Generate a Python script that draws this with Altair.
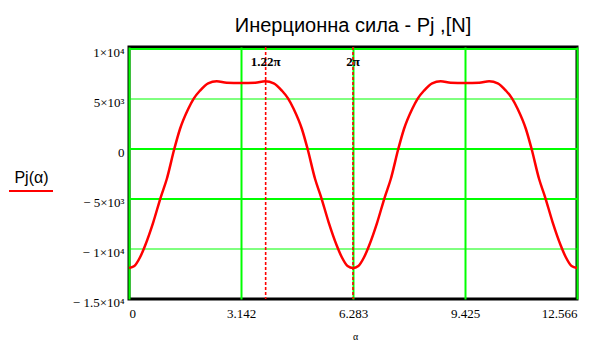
import altair as alt
import pandas as pd

# Curve values (alpha in rad, Pj in N)
alpha = [0.0, 0.15, 0.31, 0.45, 0.68, 0.89, 1.06, 1.27, 1.43, 1.66, 1.82, 1.99, 2.22, 2.46, 2.74,
         3.14, 3.54, 3.82, 4.06, 4.29, 4.46, 4.62, 4.85, 5.01, 5.22, 5.39, 5.60, 5.83, 5.97, 6.13,
         6.283, 6.433, 6.593, 6.733, 6.963, 7.173, 7.343, 7.553, 7.713, 7.943, 8.103, 8.273, 8.503,
         8.743, 9.023, 9.423, 9.823, 10.103, 10.343, 10.573, 10.743, 10.903, 11.133, 11.293, 11.503,
         11.673, 11.883, 12.113, 12.253, 12.413, 12.566]
pj = [-11900, -11700, -10830, -9670, -7330, -4830, -3000, 0, 2000, 4000, 5070, 5830, 6570, 6770, 6630,
      6600, 6630, 6770, 6570, 5830, 5070, 4000, 2000, 0, -3000, -4830, -7330, -9670, -10830, -11700,
      -11900, -11700, -10830, -9670, -7330, -4830, -3000, 0, 2000, 4000, 5070, 5830, 6570,
      6770, 6630, 6600, 6630, 6770, 6570, 5830, 5070, 4000, 2000, 0, -3000,
      -4830, -7330, -9670, -10830, -11700, -11900]

x_ticks = [0, 3.142, 6.283, 9.425, 12.566]
y_ticks = [10000, 5000, 0, -5000, -10000, -15000]
y_tick_labels = ["1×10⁴", "5×10³", "0", "− 5×10³", "− 1×10⁴", "− 1.5×10⁴"]
y_grid_values = [10000, 5000, 0, -5000, -10000]
y_grid_widths = [2, 1, 2, 2, 1]
marker_alpha = [3.833, 6.283]
marker_labels = ["1.22π", "2π"]

title_text = "Инерционна сила - Pj ,[N]"
y_title = "Pj(α)"
x_title = "α"

curve_df = pd.DataFrame({"alpha": alpha, "pj": pj})
marker_df = pd.DataFrame({"alpha": marker_alpha, "label": marker_labels})
grid_df = pd.DataFrame({"pj": y_grid_values, "w": y_grid_widths})
one_df = pd.DataFrame({"k": [0]})

y_expr = " : ".join(
    f"datum.value == {v} ? '{l}'" for v, l in zip(y_ticks, y_tick_labels)
) + " : ''"
x_expr = "datum.value == 0 ? '0' : format(datum.value, '.3f')"

GREEN = "#00ff00"
RED = "#ff0000"

x_scale = alt.Scale(domain=[0, 12.566], nice=False, zero=False)
y_scale = alt.Scale(domain=[-15000, 10200], nice=False, zero=False)

x_axis = alt.Axis(
    values=x_ticks, labelExpr=x_expr, title=x_title,
    titleX=226, titleY=37, titleFont="Liberation Serif", titleFontSize=10,
    titleFontWeight="normal", titleBaseline="middle",
    labelBaseline="top", labelPadding=8,
    grid=True, gridWidth=2, gridColor=GREEN,
)
y_axis = alt.Axis(
    values=y_ticks, labelExpr=y_expr, title=y_title, grid=False,
    titleAngle=0, titleX=-98, titleY=130, titleAlign="center", titleBaseline="middle",
    titleFont="Liberation Sans", titleFontSize=16, titleFontWeight="normal",
    labelPadding=5, labelBaseline="middle", labelOffset=3,
)

grid = alt.Chart(grid_df).mark_rule(color=GREEN).encode(
    y=alt.Y("pj:Q", scale=y_scale, axis=y_axis),
    strokeWidth=alt.StrokeWidth("w:Q", scale=None),
)

line = alt.Chart(curve_df).mark_line(
    color=RED, strokeWidth=2.5, interpolate="monotone"
).encode(
    x=alt.X("alpha:Q", scale=x_scale, axis=x_axis),
    y=alt.Y("pj:Q"),
)

markers = alt.Chart(marker_df).mark_rule(
    color=RED, strokeDash=[3, 2], strokeWidth=1.6
).encode(x="alpha:Q")

marker_text = alt.Chart(marker_df).mark_text(
    font="Liberation Serif", fontSize=13, fontWeight="bold", color="black",
    align="center", baseline="middle"
).encode(x="alpha:Q", y=alt.value(15), text="label:N")

underline = alt.Chart(one_df).mark_rule(color=RED, strokeWidth=2).encode(
    x=alt.value(-120), x2=alt.value(-76), y=alt.value(144)
)

chart = alt.layer(grid, line, markers, marker_text, underline).properties(
    width=448, height=252,
    title=alt.Title(title_text, fontSize=20, font="Liberation Sans", fontWeight="normal",
                    anchor="middle", frame="group", offset=10, color="black"),
    autosize=alt.AutoSizeParams(type="none"),
    padding={"left": 129, "top": 47, "right": 22, "bottom": 43},
    background="white",
).configure_view(
    stroke="black", strokeWidth=3
).configure_axis(
    domain=False, ticks=False, tickSize=0, gridOpacity=1,
    labelFont="Liberation Serif", labelFontSize=13, labelColor="black",
    titleColor="black",
)

chart.save("out.html", embed_options={"renderer": "svg", "actions": False})
